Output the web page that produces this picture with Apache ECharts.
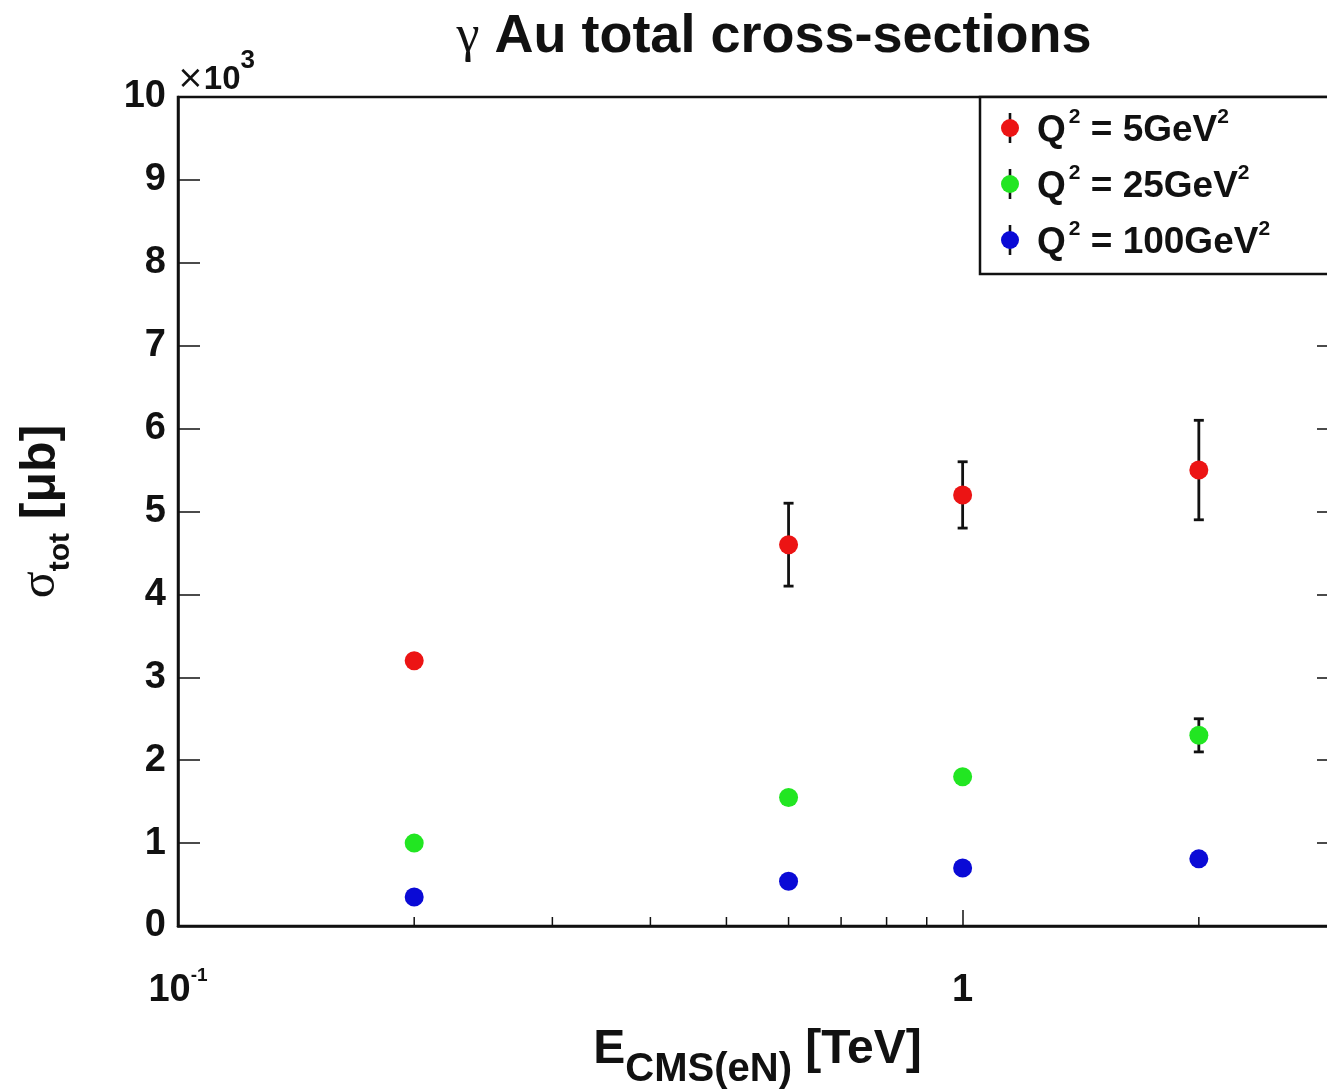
<!DOCTYPE html>
<html>
<head>
<meta charset="utf-8">
<title>γ Au total cross-sections</title>
<script src="https://cdn.jsdelivr.net/npm/echarts@6/dist/echarts.min.js"></script>
<style>
  html, body { margin: 0; padding: 0; background: #fff; }
  #chart { width: 1327px; height: 1091px; }
</style>
</head>
<body>
<div id="chart"></div>
<script>
// Centre-of-mass energy per nucleon pair [TeV]
const X_ENERGY = [0.2, 0.6, 1, 2];

// Total cross-sections [μb] and their errors, one array per Q² value
const SIGMA_Q2_5 = [3200, 4600, 5200, 5500];
const ERR_Q2_5 = [0, 500, 400, 600];
const SIGMA_Q2_25 = [1000, 1550, 1800, 2300];
const ERR_Q2_25 = [0, 0, 0, 200];
const SIGMA_Q2_100 = [350, 540, 700, 810];
const ERR_Q2_100 = [0, 0, 0, 0];

const SERIES_NAMES = ['Q² = 5GeV²', 'Q² = 25GeV²', 'Q² = 100GeV²'];
const Q2_LABELS = ['5', '25', '100'];
const SERIES_COLORS = ['#ec1414', '#22e622', '#0a0ad6'];

// Minor log ticks on the energy axis
const X_MINOR_TICKS = [0.2, 0.3, 0.4, 0.5, 0.6, 0.7, 0.8, 0.9, 2];

const FONT = 'Liberation Sans, Arial, Helvetica, sans-serif';
const INK = '#111';

const chart = echarts.init(document.getElementById('chart'), null, { renderer: 'canvas' });

function zip(xs, ys, es) {
  return xs.map((x, i) => [x, ys[i], es[i]]);
}

// Legend symbol: a short error bar with the coloured marker on top
function legendIcon(color) {
  const svg = "<svg xmlns='http://www.w3.org/2000/svg' width='20' height='30'>" +
    "<line x1='10' y1='0' x2='10' y2='30' stroke='#111' stroke-width='2.6'/>" +
    "<circle cx='10' cy='15' r='9' fill='" + color + "'/></svg>";
  return 'image://data:image/svg+xml;charset=utf-8,' + encodeURIComponent(svg);
}

function renderErrorBar(params, api) {
  const x = api.value(0), y = api.value(1), e = api.value(2);
  if (!e) return null;
  const top = api.coord([x, y + e]);
  const bot = api.coord([x, y - e]);
  const cap = 5;
  const style = { stroke: INK, lineWidth: 2.8 };
  return {
    type: 'group',
    children: [
      { type: 'line', shape: { x1: top[0], y1: top[1], x2: bot[0], y2: bot[1] }, style },
      { type: 'line', shape: { x1: top[0] - cap, y1: top[1], x2: top[0] + cap, y2: top[1] }, style },
      { type: 'line', shape: { x1: bot[0] - cap, y1: bot[1], x2: bot[0] + cap, y2: bot[1] }, style }
    ]
  };
}

function renderMinorTick(params, api) {
  const p = api.coord([api.value(0), 0]);
  return {
    type: 'line',
    shape: { x1: p[0], y1: p[1], x2: p[0], y2: p[1] - 9 },
    style: { stroke: INK, lineWidth: 1.5 }
  };
}

const sigmas = [SIGMA_Q2_5, SIGMA_Q2_25, SIGMA_Q2_100];
const errors = [ERR_Q2_5, ERR_Q2_25, ERR_Q2_100];

const series = [];
SERIES_NAMES.forEach((name, i) => {
  series.push({
    name,
    type: 'custom',
    renderItem: renderErrorBar,
    data: zip(X_ENERGY, sigmas[i], errors[i]),
    encode: { x: 0, y: 1 },
    z: 2,
    silent: true
  });
  series.push({
    name,
    type: 'scatter',
    data: zip(X_ENERGY, sigmas[i], errors[i]),
    encode: { x: 0, y: 1 },
    symbol: 'circle',
    symbolSize: 19,
    itemStyle: { color: SERIES_COLORS[i], opacity: 1 },
    z: 3
  });
});
series.push({
  name: 'minor-ticks',
  type: 'custom',
  renderItem: renderMinorTick,
  data: X_MINOR_TICKS.map(v => [v, 0]),
  encode: { x: 0, y: 1 },
  z: 4,
  silent: true
});

const option = {
  animation: false,
  backgroundColor: '#fff',
  title: [
    {
      text: '{g|γ}{b| Au total cross-sections}',
      left: 769,
      textAlign: 'center',
      top: 5,
      textStyle: {
        rich: {
          g: { fontFamily: 'Liberation Serif, DejaVu Serif, serif', fontSize: 52, fontWeight: 'normal', color: INK },
          b: { fontFamily: FONT, fontSize: 54, fontWeight: 'bold', color: INK }
        }
      }
    },
    {
      text: '{x|×}{n|10}{s|3}',
      left: 172,
      top: 43,
      textStyle: {
        rich: {
          x: { fontFamily: 'DejaVu Sans, sans-serif', fontSize: 32, fontWeight: 'normal', color: INK, lineHeight: 48, verticalAlign: 'bottom' },
          n: { fontFamily: FONT, fontSize: 33, fontWeight: 'bold', color: INK, lineHeight: 48, verticalAlign: 'bottom' },
          s: { fontFamily: FONT, fontSize: 26, fontWeight: 'bold', color: INK, lineHeight: 26, verticalAlign: 'top' }
        }
      }
    }
  ],
  legend: {
    orient: 'vertical',
    left: 980,
    top: 97,
    padding: [10, 110, 13, 20],
    itemGap: 14,
    itemWidth: 20,
    itemHeight: 30,
    borderColor: INK,
    borderWidth: 2.5,
    borderRadius: 0,
    backgroundColor: '#fff',
    selectedMode: false,
    data: SERIES_NAMES.map((name, i) => ({ name, icon: legendIcon(SERIES_COLORS[i]) })),
    formatter: name => {
      const q = Q2_LABELS[SERIES_NAMES.indexOf(name)];
      return '{q|Q}{s|2}{t| = ' + q + 'GeV}{s|2}';
    },
    textStyle: {
      rich: {
        q: { fontFamily: FONT, fontSize: 37, fontWeight: 'bold', color: INK, lineHeight: 42, verticalAlign: 'bottom', padding: [0, 3, 0, 12] },
        t: { fontFamily: FONT, fontSize: 37, fontWeight: 'bold', color: INK, lineHeight: 42, verticalAlign: 'bottom' },
        s: { fontFamily: FONT, fontSize: 21, fontWeight: 'bold', color: INK, lineHeight: 20, verticalAlign: 'top' }
      }
    }
  },
  grid: {
    left: 178,
    top: 97,
    width: 1159,
    height: 829,
    outerBoundsMode: 'none',
    containLabel: false,
    show: true,
    borderColor: INK,
    borderWidth: 2.5,
    backgroundColor: '#fff'
  },
  xAxis: {
    type: 'log',
    logBase: 10,
    min: 0.1,
    max: 3,
    position: 'bottom',
    axisLine: { show: true, lineStyle: { color: INK, width: 2.5 } },
    axisTick: { show: true, inside: true, length: 16, lineStyle: { color: INK, width: 1.5 } },
    splitLine: { show: false },
    minorTick: { show: false },
    axisLabel: {
      margin: 40,
      formatter: v => {
        const e = Math.log10(v);
        if (Math.abs(e + 1) < 1e-6) return '{n|10}{s|-1}';
        if (Math.abs(e) < 1e-6) return '{n|1}';
        return '';
      },
      rich: {
        n: { fontFamily: FONT, fontSize: 38, fontWeight: 'bold', color: INK, lineHeight: 44, verticalAlign: 'bottom' },
        s: { fontFamily: FONT, fontSize: 19, fontWeight: 'bold', color: INK, lineHeight: 20, verticalAlign: 'top' }
      }
    },
    name: '{e|E}{sub|CMS(eN)}{e| [TeV]}',
    nameLocation: 'middle',
    nameGap: 100,
    nameTextStyle: {
      rich: {
        e: { fontFamily: FONT, fontSize: 48, fontWeight: 'bold', color: INK, lineHeight: 48, verticalAlign: 'top' },
        sub: { fontFamily: FONT, fontSize: 40, fontWeight: 'bold', color: INK, lineHeight: 64, verticalAlign: 'bottom' }
      }
    }
  },
  yAxis: [
    {
      type: 'value',
      min: 0,
      max: 10000,
      interval: 1000,
      position: 'left',
      axisLine: { show: true, lineStyle: { color: INK, width: 2.5 } },
      axisTick: { show: true, inside: true, length: 22, lineStyle: { color: INK, width: 1.5 } },
      splitLine: { show: false },
      axisLabel: {
        margin: 12,
        fontFamily: FONT,
        fontSize: 38,
        fontWeight: 'bold',
        color: INK,
        formatter: v => String(v / 1000)
      },
      name: '{s|σ}{sub|tot}{b| [μb]}',
      nameLocation: 'middle',
      nameRotate: 90,
      nameGap: 102,
      nameTextStyle: {
        rich: {
          s: { fontFamily: 'Liberation Serif, DejaVu Serif, serif', fontSize: 50, fontWeight: 'normal', color: INK, lineHeight: 50, verticalAlign: 'top' },
          b: { fontFamily: FONT, fontSize: 50, fontWeight: 'bold', color: INK, lineHeight: 50, verticalAlign: 'top' },
          sub: { fontFamily: FONT, fontSize: 30, fontWeight: 'bold', color: INK, lineHeight: 60, verticalAlign: 'bottom' }
        }
      }
    },
    {
      type: 'value',
      min: 0,
      max: 10000,
      interval: 1000,
      position: 'right',
      axisLine: { show: true, lineStyle: { color: INK, width: 2.5 } },
      axisTick: { show: true, inside: true, length: 20, lineStyle: { color: INK, width: 1.5 } },
      axisLabel: { show: false },
      splitLine: { show: false }
    }
  ],
  series
};

chart.setOption(option);
</script>
</body>
</html>
